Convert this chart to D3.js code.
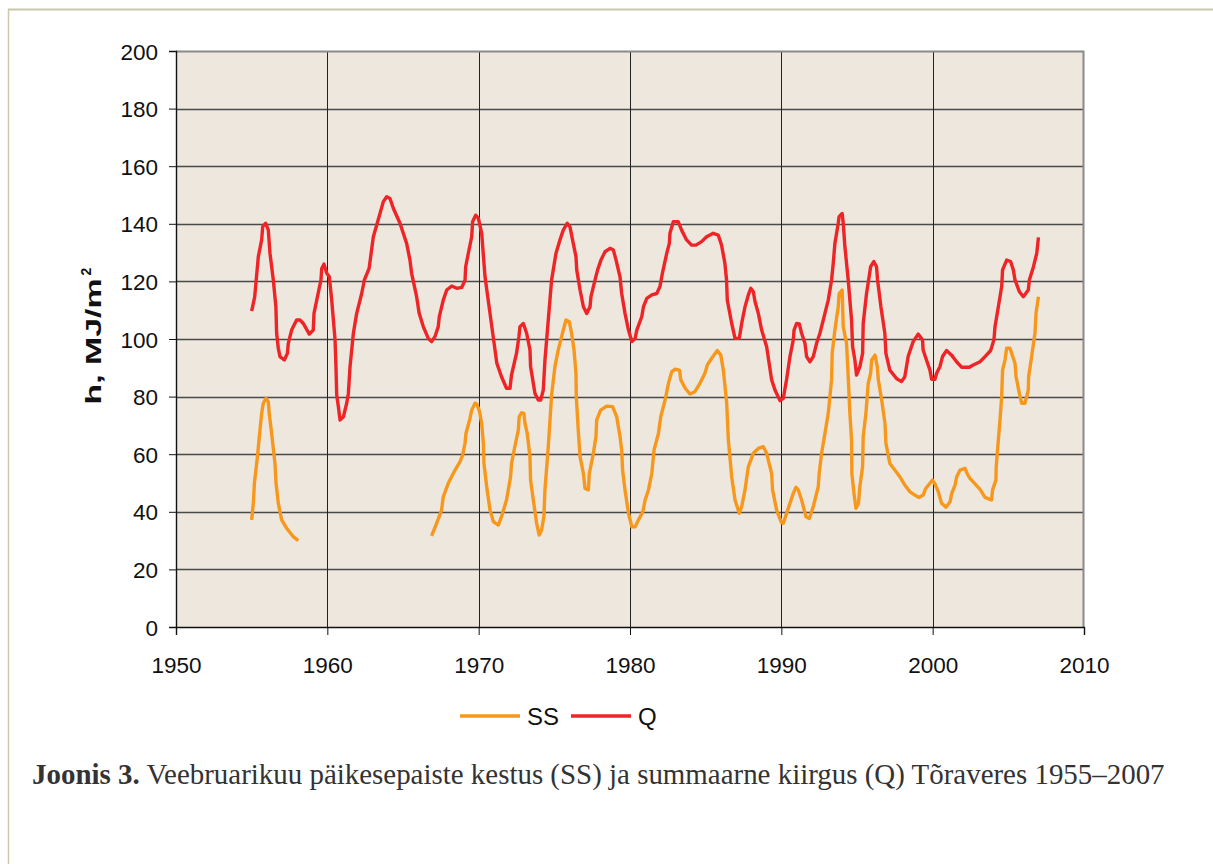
<!DOCTYPE html>
<html>
<head>
<meta charset="utf-8">
<script src="https://cdn.jsdelivr.net/npm/d3@7"></script>
<style>
    body { margin: 0; background: #fff; }
    svg { display: block; }
</style>
</head>
<body>
<div id="chart"></div>
<script>
// Tick values
const xTicks = [1950, 1960, 1970, 1980, 1990, 2000, 2010];
const yTicks = [0, 20, 40, 60, 80, 100, 120, 140, 160, 180, 200];

// Q - summaarne kiirgus
const qYears = [1955.0, 1955.2, 1955.44, 1955.66, 1955.73, 1955.93, 1956.1, 1956.21, 1956.43, 1956.6, 1956.65, 1956.76, 1956.87, 1957.16, 1957.36, 1957.42, 1957.64, 1957.97, 1958.19, 1958.41, 1958.81, 1959.07, 1959.12, 1959.3, 1959.58, 1959.63, 1959.78, 1959.96, 1960.13, 1960.29, 1960.51, 1960.57, 1960.62, 1960.73, 1960.84, 1961.06, 1961.28, 1961.39, 1961.5, 1961.72, 1961.94, 1962.27, 1962.45, 1962.76, 1963.04, 1963.48, 1963.7, 1963.92, 1964.14, 1964.36, 1964.8, 1965.24, 1965.46, 1965.57, 1965.9, 1966.07, 1966.34, 1966.67, 1966.89, 1967.11, 1967.33, 1967.4, 1967.66, 1967.89, 1968.22, 1968.55, 1968.88, 1969.1, 1969.14, 1969.36, 1969.54, 1969.6, 1969.8, 1969.98, 1970.2, 1970.42, 1970.75, 1971.2, 1971.51, 1971.84, 1972.07, 1972.17, 1972.5, 1972.66, 1972.73, 1972.95, 1973.17, 1973.39, 1973.43, 1973.72, 1973.94, 1974.1, 1974.27, 1974.38, 1974.6, 1974.82, 1975.11, 1975.37, 1975.59, 1975.85, 1976.03, 1976.25, 1976.43, 1976.48, 1976.7, 1976.92, 1977.14, 1977.36, 1977.42, 1977.69, 1977.86, 1978.08, 1978.35, 1978.68, 1978.9, 1979.08, 1979.34, 1979.45, 1979.67, 1979.9, 1980.12, 1980.34, 1980.45, 1980.78, 1980.89, 1981.11, 1981.44, 1981.77, 1981.98, 1982.14, 1982.43, 1982.6, 1982.64, 1982.86, 1983.19, 1983.41, 1983.74, 1984.07, 1984.36, 1984.73, 1985.06, 1985.5, 1985.83, 1986.05, 1986.27, 1986.38, 1986.43, 1986.72, 1986.94, 1987.22, 1987.38, 1987.6, 1987.82, 1987.98, 1988.15, 1988.26, 1988.48, 1988.7, 1989.03, 1989.36, 1989.58, 1989.91, 1990.13, 1990.35, 1990.57, 1990.79, 1990.84, 1991.01, 1991.19, 1991.34, 1991.56, 1991.67, 1991.89, 1992.11, 1992.33, 1992.55, 1992.88, 1993.1, 1993.32, 1993.43, 1993.54, 1993.76, 1993.82, 1994.02, 1994.09, 1994.2, 1994.42, 1994.64, 1994.71, 1994.86, 1994.97, 1995.19, 1995.37, 1995.41, 1995.63, 1995.8, 1995.9, 1996.11, 1996.29, 1996.36, 1996.58, 1996.84, 1996.91, 1997.17, 1997.61, 1997.94, 1998.16, 1998.38, 1998.71, 1999.04, 1999.33, 1999.37, 1999.59, 1999.82, 1999.93, 2000.15, 2000.26, 2000.48, 2000.65, 2000.92, 2001.25, 2001.58, 2001.91, 2002.42, 2002.68, 2003.13, 2003.46, 2003.83, 2004.05, 2004.12, 2004.34, 2004.56, 2004.62, 2004.89, 2005.15, 2005.33, 2005.44, 2005.73, 2005.99, 2006.32, 2006.39, 2006.66, 2006.88, 2006.99];
const qValues = [109.7, 114.6, 128.6, 134.4, 139, 140.2, 137.8, 129.8, 120.5, 111.2, 102, 96.8, 93.9, 92.7, 95, 98.5, 103.1, 106.6, 106.6, 105.4, 101.7, 103.1, 108.9, 113.5, 120.5, 124.5, 126, 122.8, 121.6, 113.5, 99.7, 90.4, 80.6, 76.5, 71.9, 73, 77.7, 81.1, 90.4, 102, 108.9, 115.8, 120.5, 124.5, 135.5, 143.6, 147.7, 149.4, 148.8, 145.4, 140.2, 133.2, 127.4, 122.8, 114.7, 108.9, 104.3, 100.2, 99.1, 100.8, 104.3, 107.8, 113.5, 117, 118.4, 117.6, 117.9, 120.5, 125.1, 130.9, 135.5, 140.7, 143, 141.9, 136.7, 121.6, 108.9, 91.6, 86.9, 82.9, 82.9, 87.5, 95, 100.8, 104.3, 105.4, 102, 96.2, 90.4, 81.1, 78.8, 78.8, 82.3, 92.7, 106.6, 120.5, 129.8, 134.4, 137.8, 140.2, 139, 133.2, 128.6, 124, 117, 111.2, 108.9, 111.2, 114.7, 120.5, 124, 127.4, 130.3, 131.5, 130.9, 127.4, 121.6, 115.8, 108.9, 103.1, 99.1, 100.2, 103.1, 107.8, 111.2, 114.1, 115.3, 115.8, 118.2, 122.8, 129.8, 133.2, 136.7, 140.7, 140.7, 137.8, 134.4, 132.6, 132.6, 133.8, 135.5, 136.7, 136.1, 132.6, 126.3, 120.5, 113.5, 105.4, 100.2, 100.2, 105.4, 111.2, 115.3, 117.6, 116.4, 113, 108.9, 103.1, 97.3, 85.8, 82.3, 78.6, 79.4, 86, 93.9, 99.7, 103.1, 105.4, 105.2, 102, 98.5, 93.9, 92.1, 93.9, 98.5, 102, 108.9, 113.5, 120.5, 126.3, 133.2, 140.2, 142.5, 143.6, 140.2, 132.1, 120.5, 106.6, 97.3, 92.7, 87.5, 90.4, 95, 105.4, 115.8, 121.6, 125.1, 126.9, 125.1, 120.5, 111.2, 102, 95, 89.2, 86.3, 85.2, 86.9, 93.9, 99.1, 101.7, 99.7, 96.2, 92.7, 89.2, 86, 86, 88.1, 90.4, 93.9, 96, 94.4, 92.1, 90.2, 90.2, 91, 92.1, 93.9, 96, 99.7, 104.3, 111.2, 118.2, 124, 127.4, 126.9, 124, 120.5, 116.4, 114.7, 117, 120.5, 125.1, 129.8, 135.3];

// SS - päikesepaiste kestus (null = puuduvad andmed)
const ssYears = [1955.0, 1955.11, 1955.18, 1955.38, 1955.55, 1955.66, 1955.77, 1955.95, 1956.1, 1956.16, 1956.32, 1956.54, 1956.61, 1956.76, 1956.98, 1957.31, 1957.75, 1958.08, 1962.5, 1966.89, 1967.22, 1967.55, 1967.66, 1967.99, 1968.44, 1968.77, 1968.94, 1969.1, 1969.16, 1969.43, 1969.54, 1969.76, 1969.87, 1970.05, 1970.2, 1970.31, 1970.35, 1970.53, 1970.75, 1970.97, 1971.3, 1971.51, 1971.84, 1972.11, 1972.17, 1972.39, 1972.62, 1972.68, 1972.83, 1972.99, 1973.06, 1973.21, 1973.39, 1973.43, 1973.61, 1973.83, 1974.0, 1974.16, 1974.31, 1974.38, 1974.6, 1974.82, 1975.04, 1975.26, 1975.59, 1975.77, 1975.99, 1976.14, 1976.3, 1976.43, 1976.45, 1976.58, 1976.7, 1976.92, 1977.03, 1977.25, 1977.31, 1977.58, 1977.75, 1977.8, 1978.06, 1978.46, 1978.85, 1979.12, 1979.34, 1979.45, 1979.51, 1979.67, 1979.9, 1980.12, 1980.34, 1980.56, 1980.85, 1981.0, 1981.22, 1981.44, 1981.59, 1981.88, 1982.03, 1982.32, 1982.54, 1982.76, 1982.98, 1983.27, 1983.36, 1983.65, 1983.96, 1984.29, 1984.62, 1984.95, 1985.11, 1985.4, 1985.77, 1986.0, 1986.17, 1986.39, 1986.5, 1986.72, 1986.94, 1987.22, 1987.38, 1987.6, 1987.82, 1988.15, 1988.48, 1988.81, 1989.03, 1989.36, 1989.42, 1989.69, 1990.0, 1990.13, 1990.35, 1990.57, 1990.79, 1990.97, 1991.12, 1991.34, 1991.63, 1991.85, 1992.11, 1992.44, 1992.5, 1992.66, 1992.88, 1993.1, 1993.32, 1993.36, 1993.54, 1993.76, 1993.82, 1994.02, 1994.09, 1994.31, 1994.42, 1994.53, 1994.64, 1994.66, 1994.8, 1994.93, 1995.1, 1995.19, 1995.37, 1995.41, 1995.59, 1995.74, 1995.9, 1995.97, 1996.19, 1996.34, 1996.41, 1996.63, 1996.85, 1996.91, 1997.17, 1997.5, 1997.83, 1998.16, 1998.49, 1998.82, 1999.1, 1999.37, 1999.54, 1999.82, 1999.99, 2000.15, 2000.37, 2000.59, 2000.88, 2001.15, 2001.26, 2001.48, 2001.59, 2001.81, 2002.14, 2002.28, 2002.46, 2002.8, 2003.13, 2003.46, 2003.89, 2003.96, 2004.18, 2004.2, 2004.34, 2004.45, 2004.56, 2004.62, 2004.78, 2004.89, 2005.11, 2005.29, 2005.44, 2005.51, 2005.73, 2005.88, 2006.1, 2006.32, 2006.34, 2006.54, 2006.76, 2006.83, 2006.99];
const ssValues = [37.2, 43, 49.9, 59.1, 68.4, 74.2, 77.7, 79.4, 78.2, 74.2, 67.2, 56.8, 49.9, 43, 37.2, 34.3, 31.4, 30, null, 31.6, 36, 40.6, 45.2, 49.9, 54.5, 57.4, 59.7, 63.8, 67.2, 72.5, 75.3, 77.7, 77.5, 75, 70.7, 63.8, 56.8, 48.7, 40.6, 36.6, 35.4, 38.3, 44.1, 52.2, 56.8, 62.6, 68.4, 73, 74.4, 74.2, 70.7, 67.2, 59.1, 51, 44.1, 36, 31.9, 33.7, 38.3, 47.6, 62.6, 80.5, 90.4, 96.2, 103.1, 106.6, 106, 102, 96.2, 88.1, 80, 68.4, 59.1, 53.3, 48.1, 47.6, 53.3, 60.3, 66.1, 71.9, 75.3, 76.7, 76.5, 73, 66.1, 61.5, 54.5, 47.6, 39.5, 34.8, 34.8, 37.2, 40, 44.1, 47.6, 53.3, 61.5, 67.2, 73, 78.8, 84.6, 88.7, 89.5, 89.2, 85.8, 82.9, 80.9, 81.7, 84.6, 88.1, 91, 93.3, 96, 94.4, 89.2, 77.7, 64.9, 52.2, 44.1, 39.5, 41.8, 47.6, 55.7, 60.3, 62, 62.6, 60.3, 53.3, 47.6, 40.6, 36.3, 36, 39.5, 43, 46.4, 48.5, 47.6, 44.1, 38.3, 37.7, 41.8, 48.7, 53.3, 60.3, 67.2, 74.2, 85.8, 95, 103.1, 111.2, 115.8, 117, 104.3, 98.5, 86.9, 74.2, 64.9, 53.3, 46.4, 41.2, 43, 48.7, 55.7, 66.1, 74.2, 84.6, 88.1, 92.7, 94.4, 90.4, 85.8, 78.8, 70.7, 63.8, 56.8, 54.5, 52.2, 49.3, 47, 45.8, 45, 45.8, 48.1, 49.9, 51, 49.7, 47, 43, 41.6, 43.5, 46.4, 49.3, 52.2, 54.5, 55.1, 53.3, 51.6, 49.7, 47.8, 45, 44.1, 47.6, 51, 55.7, 64.9, 71.9, 80, 89.2, 92.7, 96.8, 96.8, 93.9, 91.6, 86.9, 81.1, 77.7, 77.7, 82.3, 86.9, 93.9, 102, 108.9, 114.7];

const seriesNames = ["SS", "Q"];
const seriesColors = ["#f7981d", "#ee2427"];

const W = 1213, H = 864;
const margin = { top: 51, right: 129, bottom: 237, left: 176 };
const width = W - margin.left - margin.right,
    height = H - margin.top - margin.bottom;

const svg = d3.select("#chart").append("svg")
    .attr("width", W)
    .attr("height", H)
    .style("font-family", "'Liberation Sans', Arial, sans-serif");

// page frame lines
svg.append("line").attr("x1", 8).attr("x2", W).attr("y1", 9.5).attr("y2", 9.5)
    .attr("stroke", "#cbc7aa").attr("stroke-width", 2);
svg.append("line").attr("x1", 8.5).attr("x2", 8.5).attr("y1", 9).attr("y2", H)
    .attr("stroke", "#cbc7aa").attr("stroke-width", 1.5);

const g = svg.append("g").attr("transform", "translate(" + margin.left + "," + margin.top + ")");

const x = d3.scaleLinear().domain([1950, 2010]).range([0, width]);
const y = d3.scaleLinear().domain([0, 200]).range([height, 0]);

// plot background
g.append("rect").attr("width", width).attr("height", height).attr("fill", "#ede7de");

// grid
g.selectAll(".hgrid").data(yTicks.filter(d => d > 0 && d < 200)).enter().append("line")
    .attr("x1", 0).attr("x2", width)
    .attr("y1", d => Math.round(y(d)) + 0.5).attr("y2", d => Math.round(y(d)) + 0.5)
    .attr("stroke", "#4a4a4a").attr("stroke-width", 1.4);
g.selectAll(".vgrid").data(xTicks.filter(d => d > 1950 && d < 2010)).enter().append("line")
    .attr("y1", 0).attr("y2", height)
    .attr("x1", d => Math.round(x(d)) + 0.5).attr("x2", d => Math.round(x(d)) + 0.5)
    .attr("stroke", "#222").attr("stroke-width", 1);

// plot frame (top/right grey)
g.append("path").attr("d", `M0,0.5H${width - 0.5}V${height}`)
    .attr("fill", "none").attr("stroke", "#8a8a8a").attr("stroke-width", 2);

// axes
const xAxis = g.append("g").attr("transform", "translate(0," + height + ")")
    .call(d3.axisBottom(x).tickValues(xTicks).tickFormat(d3.format("d")).tickSize(8).tickPadding(27));
const yAxis = g.append("g")
    .call(d3.axisLeft(y).tickValues(yTicks).tickSize(7).tickPadding(11));
[xAxis, yAxis].forEach(a => {
    a.select(".domain").attr("stroke", "#111").attr("stroke-width", 1.4);
    a.selectAll(".tick line").attr("stroke", "#111");
    a.selectAll("text").attr("font-size", 22.5).attr("fill", "#111")
        .attr("font-family", "'Liberation Sans', Arial, sans-serif");
});
yAxis.selectAll("text").attr("dy", "0.36em");
xAxis.selectAll("text").attr("dy", "0.5em");

// y title
const yt = svg.append("text")
    .attr("transform", "translate(101,336) rotate(-90)")
    .attr("text-anchor", "middle")
    .attr("font-size", 22).attr("font-weight", "bold").attr("fill", "#111");
yt.append("tspan").attr("textLength", 126).attr("lengthAdjust", "spacingAndGlyphs").text("h, MJ/m");
yt.append("tspan").attr("dy", -10).attr("dx", 3).attr("font-size", 14).text("2");

// lines
const line = d3.line()
    .defined(d => d[1] !== null)
    .x(d => x(d[0]))
    .y(d => y(d[1]));

const ssData = ssYears.map((yr, i) => [yr, ssValues[i]]);
const qData = qYears.map((yr, i) => [yr, qValues[i]]);

[ssData, qData].forEach((data, i) => {
    g.append("path")
        .datum(data)
        .attr("fill", "none")
        .attr("stroke", seriesColors[i])
        .attr("stroke-width", 3.4)
        .attr("stroke-linejoin", "round")
        .attr("stroke-linecap", "butt")
        .attr("d", line);
});

// legend
const legend = svg.append("g").attr("transform", "translate(460,716)");
seriesNames.forEach((name, i) => {
    const lg = legend.append("g").attr("transform", "translate(" + i * 111 + ",0)");
    lg.append("line").attr("x1", 0).attr("x2", 60).attr("y1", 0).attr("y2", 0)
        .attr("stroke", seriesColors[i]).attr("stroke-width", 3.4);
    lg.append("text").attr("x", 67).attr("y", 0).attr("dy", "0.36em")
        .attr("font-size", 24).attr("fill", "#111").text(name);
});

// caption
const cap = svg.append("text")
    .attr("x", 32).attr("y", 784)
    .attr("font-family", "'Liberation Serif', 'DejaVu Serif', serif")
    .attr("font-size", 26).attr("fill", "#333");
cap.append("tspan").attr("font-weight", "bold").text("Joonis 3.");
cap.append("tspan").text(" Veebruarikuu päikesepaiste kestus (SS) ja summaarne kiirgus (Q) Tõraveres 1955–2007");
// fit caption width to reference span
const capLen = cap.node().getComputedTextLength();
cap.attr("font-size", 26 * 1133 / capLen);
</script>
</body>
</html>
